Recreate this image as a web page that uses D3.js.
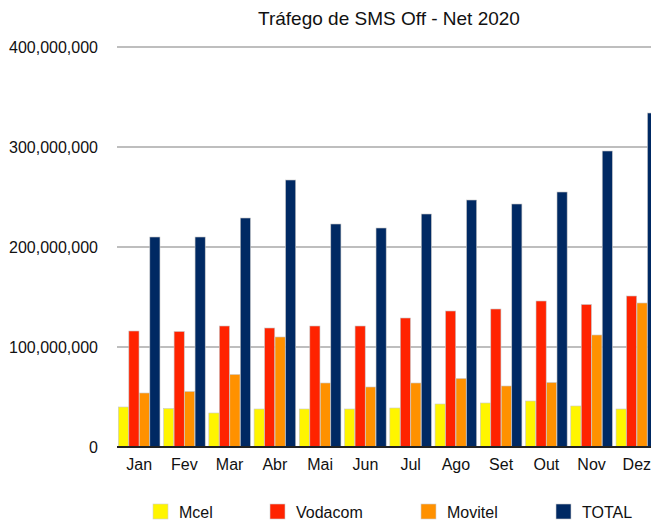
<!DOCTYPE html>
<html>
<head>
<meta charset="utf-8">
<script src="https://cdn.jsdelivr.net/npm/d3@7"></script>
<style>
  html, body { margin: 0; padding: 0; background: #fff; overflow: hidden; }
  svg { display: block; font-family: "Liberation Sans", Arial, Helvetica, sans-serif; }
</style>
</head>
<body>
<div class="chart"></div>
<script>
var months = ["Jan", "Fev", "Mar", "Abr", "Mai", "Jun", "Jul", "Ago", "Set", "Out", "Nov", "Dez"];
var series_names = ["Mcel", "Vodacom", "Movitel", "TOTAL"];
var series_colors = ["#fff500", "#ff2300", "#ff9100", "#002963"];

var mcel    = [40e6, 38.5e6, 34e6, 38e6, 38e6, 38e6, 39e6, 43e6, 44e6, 46e6, 41e6, 38e6];
var vodacom = [116e6, 115.5e6, 121e6, 119e6, 121e6, 121e6, 129e6, 136e6, 138e6, 146e6, 142.5e6, 151e6];
var movitel = [54e6, 55.5e6, 72.5e6, 110e6, 64e6, 60e6, 64e6, 68.5e6, 61e6, 64.5e6, 112e6, 144e6];
var total   = [210e6, 210e6, 229e6, 267e6, 223e6, 219e6, 233e6, 247e6, 243e6, 255e6, 296e6, 334e6];

var y_ticks = [0, 100e6, 200e6, 300e6, 400e6];

var width = 651,
    height = 521,
    plot_left = 117,
    plot_right = 659,
    plot_top = 47,
    plot_bottom = 447;

var rows = months.map(function(m, i) {
    return { month: m, values: [mcel[i], vodacom[i], movitel[i], total[i]] };
});

var svg = d3.select(".chart")
    .append("svg")
    .attr("width", width)
    .attr("height", height);

var x = d3.scaleBand()
    .domain(months)
    .range([plot_left, plot_right])
    .paddingInner(0.08)
    .paddingOuter(0.03);

var x_inner = d3.scaleBand()
    .domain(d3.range(series_names.length))
    .range([0, x.bandwidth()])
    .paddingInner(0.03);

var y = d3.scaleLinear()
    .domain([0, 400e6])
    .range([plot_bottom, plot_top]);

// title
svg.append("text")
    .attr("x", 389)
    .attr("y", 25)
    .attr("text-anchor", "middle")
    .attr("font-size", 19)
    .attr("fill", "#111")
    .text("Tráfego de SMS Off - Net 2020");

// grid lines
svg.append("g")
    .selectAll("line")
    .data(y_ticks.filter(function(t) { return t > 0; }))
    .join("line")
    .attr("x1", plot_left)
    .attr("x2", width)
    .attr("y1", function(d) { return y(d); })
    .attr("y2", function(d) { return y(d); })
    .attr("stroke", "#a9a9a9")
    .attr("stroke-width", 1.5);

// y axis labels
var y_axis = svg.append("g")
    .attr("transform", "translate(" + (plot_left - 19) + ",0)")
    .call(d3.axisLeft(y).tickValues(y_ticks).tickFormat(d3.format(",")).tickSize(0).tickPadding(0));
y_axis.select(".domain").remove();
y_axis.selectAll("text")
    .attr("font-family", "\"Liberation Sans\", Arial, sans-serif")
    .attr("font-size", 16)
    .attr("fill", "#111");

// bars
var groups = svg.append("g")
    .selectAll("g")
    .data(rows)
    .join("g")
    .attr("transform", function(d) { return "translate(" + x(d.month) + ",0)"; });

groups.selectAll("rect")
    .data(function(d) { return d.values; })
    .join("rect")
    .attr("x", function(d, i) { return x_inner(i); })
    .attr("y", function(d) { return y(d); })
    .attr("width", x_inner.bandwidth())
    .attr("height", function(d) { return y(0) - y(d); })
    .attr("fill", function(d, i) { return series_colors[i]; })
    .attr("stroke", "#c8c8c8")
    .attr("stroke-width", 0.6);

// x axis
var x_axis = svg.append("g")
    .attr("transform", "translate(0," + plot_bottom + ")")
    .call(d3.axisBottom(x).tickSize(0).tickPadding(12));
x_axis.select(".domain")
    .attr("d", "M" + plot_left + ",0H" + width)
    .attr("stroke", "#222")
    .attr("stroke-width", 2);
x_axis.selectAll("text")
    .attr("font-family", "\"Liberation Sans\", Arial, sans-serif")
    .attr("font-size", 16)
    .attr("fill", "#111");

// legend
var legend_x = [153, 270, 421, 556];
var legend = svg.append("g")
    .selectAll("g")
    .data(series_names)
    .join("g")
    .attr("transform", function(d, i) { return "translate(" + legend_x[i] + ",504)"; });

legend.append("rect")
    .attr("width", 15)
    .attr("height", 15)
    .attr("fill", function(d, i) { return series_colors[i]; })
    .attr("stroke", "#d0d0d0")
    .attr("stroke-width", 0.6);

legend.append("text")
    .attr("x", 26)
    .attr("y", 14)
    .attr("font-size", 16)
    .attr("fill", "#111")
    .text(function(d) { return d; });
</script>
</body>
</html>
